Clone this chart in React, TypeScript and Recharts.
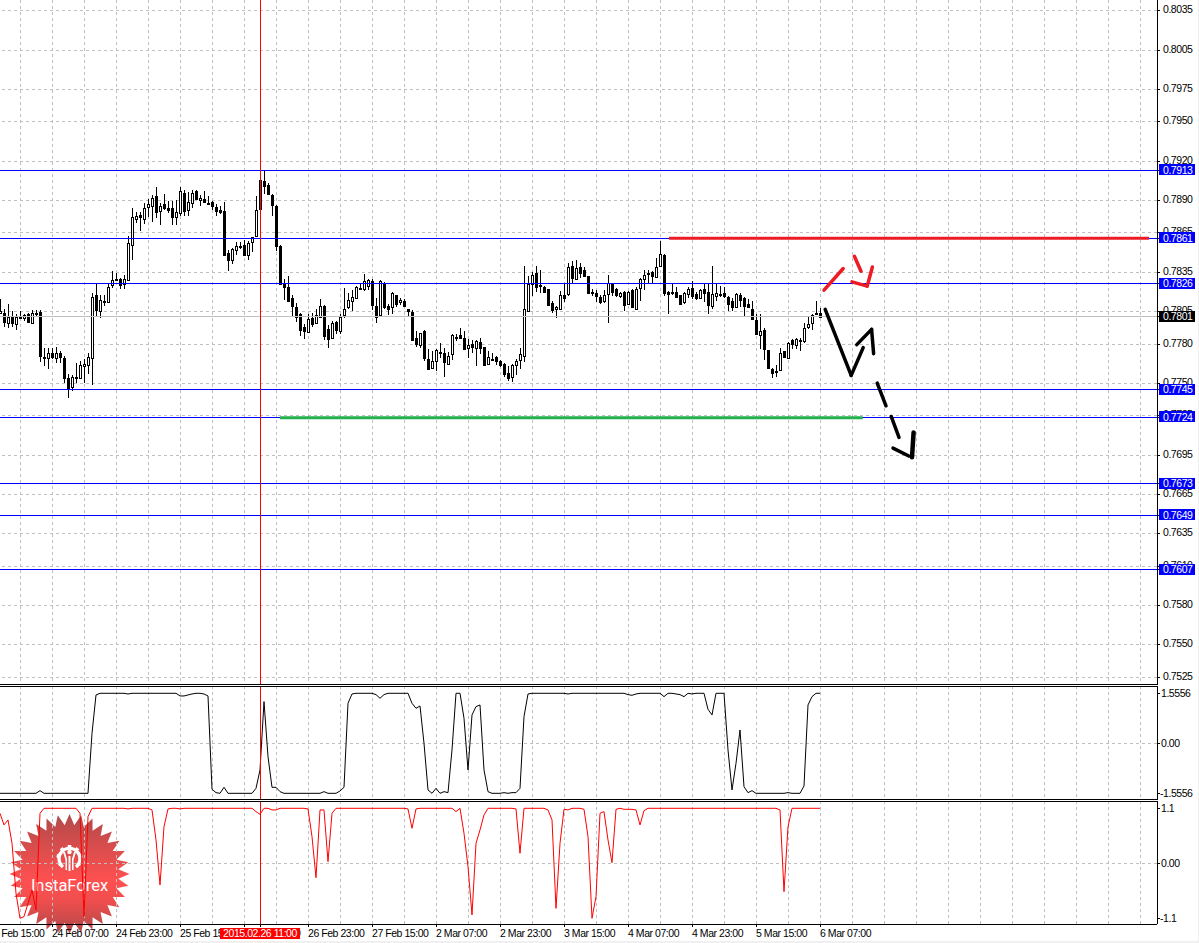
import React from "react";
import { ComposedChart, Bar, Line, XAxis, YAxis, CartesianGrid, ReferenceLine } from "recharts";

// Prices are in pips (0.7805 = 7805). Each bar: [open, high, low, close]
const barsFeb: number[][] = [
  [7803.4,7814.1,7802.7,7805.2],[7803.9,7806.5,7793,7796.8],[7796.3,7810.3,7792.5,7800.9],[7800.4,7805.2,7793,7795.8],[7795.3,7802.7,7790.7,7800.9],
  [7800.6,7805.2,7798.8,7799.9],[7799.9,7803.2,7797.6,7802.4],[7803.2,7803.4,7796.3,7796.8],[7796.3,7805.7,7795.8,7803.9],[7803.4,7806,7801.4,7802.9],
  [7804.7,7806,7766.3,7770.8],[7770.3,7777.2,7763.2,7770],[7769.3,7777.2,7760.7,7773.4],[7772.9,7777.2,7768.3,7769.8],[7769.3,7778,7765.2,7773.4],
  [7772.9,7774.7,7765.8,7769.8],[7769.6,7770.8,7750,7754],[7753.8,7756.8,7738.8,7746.2],[7747.4,7756.1,7744.1,7755.1],[7755.1,7765.8,7750,7754],
  [7754,7767,7753,7764.2],[7763.2,7768.3,7750.5,7764.7],[7763.7,7773.4,7756.8,7770.3],[7769.6,7819.2,7748.4,7816.1],[7817.2,7826.8,7801.4,7805.7],
  [7805.2,7817.9,7799.9,7813.9],[7812.6,7817.2,7809,7813.1],[7812.1,7826.8,7811.6,7823.8],[7825.3,7835.7,7823,7828.9],[7829.6,7834.5,7828.1,7829.9],
  [7829.4,7830.7,7822.3,7825.3],[7825.8,7833.2,7822.3,7829.9],[7828.9,7863,7828.1,7857.4],[7855.6,7884.1,7844.7,7877.2],[7875.7,7880.8,7872.6,7878.2],
  [7878.8,7880.8,7866.8,7877.2],[7875.7,7887.9,7872.1,7884.1],[7884.9,7891,7877.2,7887.2],[7885.4,7894.3,7873.4,7892],[7893.3,7900.1,7876.5,7881],
  [7881.6,7887.9,7870.9,7885.6],[7887.2,7895,7882.8,7884.4],[7884.1,7889.2,7880.3,7882.6],[7884.1,7889.2,7870.9,7877],[7877.5,7890,7870.9,7881],
  [7880.3,7899.9,7878.2,7896.8],[7895.8,7898.1,7877.7,7881.6],[7882.6,7896.3,7877.7,7888.7],[7887.9,7897.6,7884.1,7895.5],[7897.1,7897.6,7890,7891],
  [7890.2,7894.3,7885.4,7891.7],[7891,7896.8,7887.9,7888.4],[7888.1,7893,7886.6,7887.7],[7888.7,7889.2,7882.3,7885.6],[7885.1,7887.4,7877.7,7881.6],
  [7882.6,7885.4,7879.8,7880.8],[7881.8,7888.4,7848.5,7848.5],[7849.7,7851.8,7835.7,7844.7],[7844.1,7853.3,7841.6,7852.8],[7851.8,7857.9,7848.5,7855.1],
  [7855.3,7857.9,7852.8,7854.3],[7855.8,7859.9,7848,7848.2],[7848,7858.6,7844.7,7857.4],[7857.9,7862,7850.2,7861.7],[7862.5,7893.5,7862,7882.8],
  [7905.5,7906.2,7883.3,7883.6],[7904.7,7912.1,7895,7900.6],[7901.9,7903.2,7894.3,7894.5],[7894.3,7895,7877.7,7886.6],[7885.6,7886.6,7851,7855.3],
  [7855.3,7856.1,7825.6,7826.3],[7826.3,7829.4,7813.6,7823.3],[7823.3,7832.4,7812.8,7813.3],[7815.6,7817.2,7800.6,7809],[7808.5,7811.6,7796.8,7800.6],
];
const barsMid: number[][] = [
  [7802.9,7803.4,7786.1,7790.7],[7792.7,7795,7784.1,7789.7],[7789.4,7802.7,7788.7,7799.3],[7800.1,7803.9,7793.2,7795.3],[7796.3,7806.5,7795.8,7802.4],
  [7800.9,7814.1,7800.1,7809.3],[7808.8,7809.5,7783.1,7786.4],[7791.2,7794.3,7777.2,7783.8],[7784.3,7797.6,7783.6,7796.3],[7797.1,7797.6,7787.9,7790.5],
  [7790.2,7802.7,7787.4,7800.9],[7802.4,7823,7800.1,7807],[7808,7819.2,7806.5,7813.9],[7812.8,7821.2,7805.2,7816.2],[7815.1,7824.3,7814.6,7823.3],
  [7823,7825.6,7821.8,7822],[7822,7833.7,7820.5,7828.4],[7824.3,7829.4,7821,7828.9],[7828.4,7829.4,7805.7,7809.8],[7809.3,7815.4,7796,7800.6],
  [7802.2,7828.9,7800.9,7828.1],[7826.8,7827.3,7806.5,7808],[7809.3,7810.3,7801.9,7806.5],[7808.3,7819.7,7802.7,7818.7],[7817.2,7817.9,7808.5,7810.3],
  [7812.1,7815.4,7809.5,7813.9],[7813.3,7814.1,7808.5,7809.3],[7806.5,7807,7800.6,7805.5],[7804.4,7806,7782.3,7782.8],[7784.3,7789.9,7778,7779.8],
  [7779.3,7788.7,7777.2,7788.2],[7789.7,7790.4,7767,7769.1],[7768.3,7776.5,7760.7,7760.7],[7761.7,7774.7,7760.7,7766.8],[7767,7776.5,7759.4,7775.2],
  [7774.2,7780.5,7769.6,7772.9],[7772.9,7777.2,7754.8,7766],[7764.5,7773.9,7763.7,7771.1],[7772.4,7787.4,7767.8,7786.6],[7785.3,7787.4,7782.3,7785],
  [7786.6,7792.5,7783.6,7784.3],[7784.3,7789.9,7775.9,7776.2],[7777,7784.1,7769.1,7779.5],[7780.3,7783.1,7772.9,7777.5],[7777,7783.1,7763.2,7782.6],
  [7781.3,7784.8,7772.1,7777.2],[7777.5,7778,7763.7,7764],[7764.5,7774.7,7763.7,7769.8],[7768,7772.9,7767.5,7768.2],[7769.8,7770.8,7763.7,7767],
  [7766.8,7767.8,7762.7,7763.7],[7765,7765.8,7755.1,7756.9],[7758.1,7763.2,7752,7754.3],[7754.8,7764.5,7751,7763.7],[7764,7768.3,7756.1,7767.3],
  [7768,7777.2,7760.7,7772.6],[7770.8,7840.1,7766.5,7807],[7805.5,7831.9,7805,7826.3],[7826.3,7835.2,7816.7,7833.2],[7834,7840.1,7819.7,7823.5],
  [7825.4,7836.5,7819.2,7825.1],[7824,7824.3,7819.2,7819.7],[7821.8,7822.3,7809.5,7810.1],[7811.1,7813.3,7803.4,7805.7],[7806.7,7809,7799.9,7808.5],
];
const barsMar: number[][] = [
  [7806.5,7820.5,7805.7,7817.2],[7817.2,7825.6,7812.1,7815.6],[7818.2,7842.1,7816.7,7839.3],[7840.1,7843.4,7826.8,7830.7],[7829.4,7844.7,7828.9,7838.3],
  [7839.1,7842.1,7830.9,7834.7],[7836.3,7839.1,7831.9,7832.4],[7832.4,7832.4,7818.9,7818.9],[7820.2,7822.3,7816.7,7818.9],[7818.7,7821.2,7812.3,7816.4],
  [7816.2,7817.9,7810.6,7812.1],[7812.8,7821,7811.6,7817.2],[7818.2,7833.2,7795.8,7826.6],[7826.6,7826.8,7816.7,7819.7],[7821.8,7823,7815.9,7817.9],
  [7816.7,7820.2,7815.6,7819.2],[7820,7820.5,7804.9,7809.5],[7810.3,7820.5,7809.5,7820],[7821.5,7822.3,7807.8,7808.3],[7806.5,7823.8,7805.7,7822.3],
  [7822.8,7830.2,7813.3,7829.4],[7829.4,7837,7821.2,7833.2],[7833.8,7836.5,7826.8,7834.1],[7835.2,7835.7,7826.8,7831.7],[7831.2,7845.9,7830.7,7839.1],
  [7839.6,7859.2,7839.1,7849.2],[7848.5,7849.2,7816.7,7818.9],[7819.7,7820.5,7802.7,7818.4],[7820.2,7826.8,7817.7,7818.9],[7820.2,7823.8,7815.4,7815.9],
  [7817.2,7817.9,7809.5,7810.3],[7811.8,7819.7,7810.3,7819.2],[7818.2,7823.8,7815.4,7822.3],[7823,7828.6,7814.6,7816.4],[7818.4,7819.7,7813.6,7815.1],
  [7815.6,7822.3,7814.1,7821.5],[7822.3,7825.6,7812.1,7818.9],[7820,7825.6,7802.7,7809.8],[7809,7839.6,7806.5,7818.4],[7816.9,7826.1,7812.8,7819.2],
  [7818,7824.3,7816.2,7817.7],[7819.2,7823.5,7815.1,7816.4],[7816.2,7816.7,7805.2,7810.6],[7812.6,7815.4,7805.2,7808.3],[7808.5,7819.2,7808,7818.4],
  [7817.2,7819.2,7808.5,7813.6],[7815.4,7815.9,7800.6,7808.8],[7810.3,7814.1,7807.5,7808],[7807,7812.8,7798.9,7799.1],[7798.1,7802.7,7786.9,7787.4],
  [7787.1,7802.7,7775.9,7789.7],[7790.4,7792.5,7767.8,7775.9],[7775.2,7775.4,7760.7,7761.4],[7761.2,7761.7,7754.1,7757.9],[7759.4,7763.7,7755.1,7759.7],
  [7760.4,7777.2,7759.4,7773.4],[7774.4,7774.9,7769.6,7769.8],[7769.6,7781.5,7769.1,7781],[7782.8,7783.6,7775.9,7779.8],[7779.3,7784.3,7776.5,7783.6],
  [7783.1,7784.3,7774.7,7783.4],[7782.3,7796.3,7780.5,7792.5],[7793.2,7800.9,7791.2,7795.5],[7796,7802.9,7790.4,7802.4],[7803.4,7813.3,7802.4,7802.9],
  [7803.9,7807.7,7800.1,7800.6],
];
const oscBlack: number[] = [
  -1.556,-1.556,-1.556,-1.556,-1.556,-1.556,-1.556,-1.556,-1.556,-1.556,
  -1.473,-1.556,-1.556,-1.556,-1.556,-1.556,-1.556,-1.556,-1.556,-1.556,
  -1.556,-1.556,-1.556,0.311,1.504,1.556,1.556,1.556,1.556,1.556,
  1.556,1.556,1.535,1.556,1.556,1.556,1.556,1.556,1.556,1.556,
  1.556,1.556,1.556,1.556,1.556,1.473,1.473,1.504,1.535,1.556,
  1.556,1.535,1.473,-1.432,-1.535,-1.556,-1.369,-1.556,-1.556,-1.556,
  -1.556,-1.556,-1.556,-1.556,-1.4,-0.83,1.297,-0.415,-1.369,-1.369,
  -1.504,-1.556,-1.556,-1.556,-1.556,-1.556,-1.556,-1.556,-1.556,-1.556,
  -1.556,-1.504,-1.556,-1.556,-1.556,-1.483,-1.369,1.245,1.535,1.556,
  1.556,1.556,1.556,1.556,1.515,1.4,1.515,1.556,1.556,1.556,
  1.556,1.556,1.556,1.245,1.089,1.162,0,-1.452,-1.556,-1.4,
  -1.556,-1.504,-1.535,-0.207,1.556,1.556,0.778,-0.83,0.882,1.141,
  1.193,-0.83,-1.504,-1.556,-1.556,-1.556,-1.535,-1.556,-1.535,-1.535,
  -1.4,0.83,1.535,1.556,1.556,1.556,1.556,1.556,1.556,1.556,
  1.556,1.556,1.535,1.556,1.556,1.556,1.556,1.556,1.556,1.556,
  1.556,1.556,1.556,1.556,1.556,1.556,1.556,1.515,1.494,1.535,
  1.556,1.556,1.556,1.556,1.556,1.556,1.452,1.556,1.556,1.535,
  1.515,1.452,1.556,1.535,1.556,1.556,1.556,1.058,0.882,1.556,
  1.556,1.556,-0.207,-1.452,-0.622,0.415,-1.349,-1.535,-1.473,-1.556,
  -1.556,-1.556,-1.556,-1.556,-1.556,-1.556,-1.556,-1.535,-1.556,-1.556,
  -1.556,-1.328,1.193,1.452,1.556,1.556,
];
const oscRed: number[] = [
  1,0.767,0.867,0.4,-0.6,-1.1,-1.067,-0.8,-0.533,-0.933,
  1,1.1,1.1,1.1,1.1,1.1,1.1,1.1,1.1,1.1,
  1,-1.067,0.933,1.1,1.1,1.1,1.1,1.1,1.1,1.1,
  1.1,1.1,1.087,1.1,1.1,1.1,1.1,1.1,1.067,0.467,
  -0.433,0.733,1.087,1.1,1.1,1.087,1.1,1.1,1.1,1.1,
  1.1,1.1,1.1,1.1,1.1,1.1,1.1,1.1,1.1,1.1,
  1.1,1.1,1.1,1.1,1.033,0.98,1.1,1.1,1.067,1.067,
  1.1,1.1,1.1,1.1,1.1,1.1,1.1,1.087,0.533,-0.287,
  1.067,1.067,0.033,1,1.1,1.1,1.1,1.1,1.1,1.1,
  1.1,1.1,1.1,1.1,1.1,1.1,1.1,1.1,1.1,1.1,
  1.1,1.1,1.087,0.7,1.087,1.1,1.1,1.1,1.1,1.1,
  1.1,1.1,1.1,1.1,1.033,1.1,0.6,-0.067,-1.033,0.4,
  0.667,0.967,1.1,1.1,1.1,1.1,1.1,1.1,1.1,1.087,
  0.2,1.1,1.1,1.1,1.1,1.1,1.1,1.067,0.867,-0.9,
  0.4,1.08,1.067,1.1,1.1,1.1,1.08,0.533,-1.1,-0.667,
  1,1.033,0.467,0.013,1.08,1.1,1.08,1.08,1.08,1.067,
  0.767,1.053,1.1,1.1,1.1,1.1,1.1,1.1,1.1,1.1,
  1.1,1.1,1.1,1.1,1.1,1.1,1.1,1.1,1.1,1.1,
  1.1,1.1,1.1,1.1,1.1,1.1,1.1,1.1,1.1,1.1,
  1.1,1.1,1.1,1.1,1.1,1.067,-0.567,0.733,1.1,1.1,
  1.1,1.1,1.1,1.1,1.1,1.1,
];

const priceTicks = [8035,8005,7975,7950,7920,7890,7865,7835,7805,7780,7750,7725,7695,7665,7635,7610,7580,7550,7525];
const blueLevels = [7913,7861,7826,7745,7724,7673,7649,7607];
const lastPrice = 7801;
const gridBars = [5,13,21,29,37,45,53,61,69,77,85,93,101,109,117,125,133,141,149,157,165,173,181,189,197,205,213,221,229,237,245,253,261,269,277,285];
const timeBars = [-3,13,29,45,61,65,77,93,109,125,141,157,173,189,205];
const timeLabels = ["23 Feb 15:00","24 Feb 07:00","24 Feb 23:00","25 Feb 15:00","26 Feb 07:00","2015.02.26 11:00","26 Feb 23:00","27 Feb 15:00","2 Mar 07:00","2 Mar 23:00","3 Mar 15:00","4 Mar 07:00","4 Mar 23:00","5 Mar 15:00","6 Mar 07:00"];
const cursorBar = 65;
const redStrokes = [
  [[206,7821.2],[210.8,7837.8]],
  [[213.6,7847.2],[215.25,7835.7]],
  [[213,7827.6],[216.8,7824.3]],
  [[216.8,7824.3],[218.1,7839]],
];
const blackStrokes = [
  [[206.3,7806.5],[212.8,7756]],
  [[212.8,7756],[215.8,7777.2]],
  [[214.2,7779.5],[217.9,7791.2]],
  [[217.9,7791.2],[218.4,7772.6]],
  [[219.3,7750],[221.5,7732.7]],
  [[222.8,7724.5],[224.75,7708.5]],
  [[223.25,7700.3],[227.2,7694.2]],
  [[228,7693.2],[228.4,7712.3]],
];
const resistance = [[167.25,7861],[287.25,7861]];
const support = [[70,7723.6],[215.7,7723.6]];

const ohlc = [...barsFeb, ...barsMid, ...barsMar];
const mainData = ohlc.map((b, i) => ({ i, open: b[0], high: b[1], low: b[2], close: b[3], range: [b[2], b[1]] }));
const oscData = oscBlack.map((v, i) => ({ i, v, r: oscRed[i] }));

const FONT = "'Liberation Sans', Arial, sans-serif";
const FS = 10.5;
const LS = -0.45;
const CHART_W = 1215;
const margin = { top: 0, right: 0, bottom: 0, left: 0 };
const xDomain: [number, number] = [-4, 289.25];
const GRID = "#c0c0c0";

const Candle = (p: any) => {
  const { x, y, width, height, payload } = p;
  const cx = Math.round(x + width / 2);
  const unit = height / (payload.high - payload.low);
  const yOf = (v: number) => y + (payload.high - v) * unit;
  const up = payload.close >= payload.open;
  const top = Math.round(yOf(Math.max(payload.open, payload.close)));
  const bot = Math.round(yOf(Math.min(payload.open, payload.close)));
  return (
    <g shapeRendering="crispEdges">
      <line x1={cx + 0.5} x2={cx + 0.5} y1={Math.round(y)} y2={Math.round(y + height)} stroke="#000" />
      {up ? (
        <rect x={cx - 0.5} y={top + 0.5} width={2} height={Math.max(bot - top, 1)} fill="#fff" stroke="#000" />
      ) : (
        <rect x={cx - 1} y={top} width={3} height={Math.max(bot - top + 1, 2)} fill="#000" />
      )}
    </g>
  );
};

const PriceTick = (p: any) => {
  const { x, y, payload } = p;
  const v = payload.value;
  const blue = blueLevels.includes(v);
  const last = v === lastPrice;
  const label = (v / 10000).toFixed(4);
  if (blue || last) {
    return (
      <g>
        <rect x={x - 1} y={Math.round(y) - 6} width={36} height={11} fill={last ? "#000" : "#0000ff"} />
        <text x={x + 3} y={y + 3.5} fill="#fff" fontFamily={FONT} fontSize={FS} letterSpacing={LS}>{label}</text>
      </g>
    );
  }
  return <text x={x + 3} y={y + 2.5} fill="#000" fontFamily={FONT} fontSize={FS} letterSpacing={LS}>{label}</text>;
};

const labelsFor: Record<string, string> = { "1.5556": "1.5556", "-1.5556": "-1.5556", "1.1": "1.1", "-1.1": "-1.1", "0": "0.00" };
const OscTick = (p: any) => (
  <text x={p.x + (p.payload.value < 0 ? 0 : 1)} y={p.y + 3.5} fill="#000" fontFamily={FONT} fontSize={FS} letterSpacing={LS}>
    {labelsFor[String(p.payload.value)]}
  </text>
);

const TimeTick = (p: any) => {
  const { x, y, payload, index } = p;
  const text = timeLabels[index];
  if (payload.value === cursorBar) {
    return (
      <g>
        <rect x={x - 40} y={y + 1} width={80} height={11} fill="#ff0000" />
        <text x={x} y={y + 10} textAnchor="middle" fill="#fff" fontFamily={FONT} fontSize={FS} letterSpacing={LS}>{text}</text>
      </g>
    );
  }
  return <text x={x} y={y + 10} fill="#000" fontFamily={FONT} fontSize={FS} letterSpacing={LS}>{text}</text>;
};

const starPoints = (() => {
  const pts: string[] = [];
  const n = 32;
  for (let k = 0; k < n * 2; k++) {
    const r = k % 2 === 0 ? 60 : 49;
    const a = (Math.PI * k) / n - Math.PI / 2;
    pts.push(`${69.5 + r * Math.cos(a)},${874 + r * Math.sin(a)}`);
  }
  return pts.join(" ");
})();

const gearTeeth = [0, 40, 80, 120, 240, 280, 320];

const Badge = () => (
  <svg width={1199} height={943} style={{ position: "absolute", left: 0, top: 0 }}>
    <defs>
      <linearGradient id="star" x1="0" y1="0" x2="0" y2="1">
        <stop offset="0" stopColor="#b24a4a" />
        <stop offset="0.55" stopColor="#ff5050" />
        <stop offset="0.72" stopColor="#f04e4e" />
        <stop offset="1" stopColor="#b04848" />
      </linearGradient>
    </defs>
    <polygon points={starPoints} fill="url(#star)" />
    <g fill="#fff">
      <path d="M63 867 A10.5 10.5 0 1 1 76 867" fill="none" stroke="#fff" strokeWidth={3.2} />
      {gearTeeth.map((d) => (
        <rect key={d} x={67.7} y={845} width={3.6} height={3.6} transform={`rotate(${d} 69.5 858)`} />
      ))}
      <circle cx={69.5} cy={852} r={2.2} />
      <rect x={68.5} y={856} width={2} height={15} />
      <path d="M63 852 L65 852 L67 859 L67 870 L65.5 870 L65.5 860 Z" />
      <path d="M76 852 L74 852 L72 859 L72 870 L73.5 870 L73.5 860 Z" />
    </g>
    <text x={69.5} y={891} textAnchor="middle" fill="#fff" fontFamily="Roboto, sans-serif" fontSize={16.5}>InstaForex</text>
  </svg>
);

const Rule = ({ top }: { top: number }) => (
  <div style={{ position: "absolute", left: 0, top, width: 1158, height: 1, background: "#000" }} />
);

const seg = (s: number[][]) => s.map((q) => ({ x: q[0], y: q[1] }));

export default function App() {
  const mainTicks = [...priceTicks, ...blueLevels, lastPrice];
  return (
    <div style={{ position: "absolute", left: 0, top: 0, width: 1199, height: 943, overflow: "hidden", background: "#fff" }}>
      <style>{`.crisp line,.recharts-cartesian-grid line,.recharts-cartesian-axis-line,.recharts-cartesian-axis-tick-line{shape-rendering:crispEdges}`}</style>
      <Badge />

      <div style={{ position: "absolute", left: -16, top: 0 }}>
        <ComposedChart width={CHART_W} height={685} data={mainData} margin={margin}>
          <CartesianGrid stroke={GRID} strokeDasharray="3 3" horizontalValues={priceTicks} verticalValues={gridBars} />
          <XAxis dataKey="i" type="number" domain={xDomain} allowDataOverflow hide />
          <YAxis orientation="right" type="number" domain={[7518.9, 8043.4]} allowDataOverflow width={42} ticks={mainTicks} interval={0} tick={<PriceTick />} tickSize={3} tickMargin={0} stroke="#000" />
          <Bar dataKey="range" barSize={3} shape={<Candle />} isAnimationActive={false} />
          {blueLevels.map((v) => (
            <ReferenceLine key={v} className="crisp" y={v} stroke="#0000ff" strokeWidth={1} />
          ))}
          <ReferenceLine className="crisp" y={lastPrice} stroke="#c0c0c0" strokeWidth={1} />
          <ReferenceLine className="crisp" x={cursorBar} stroke="#ff0000" strokeWidth={1} />
          <ReferenceLine segment={seg(resistance)} stroke="#ed1c24" strokeWidth={3} />
          <ReferenceLine segment={seg(support)} stroke="#22b14c" strokeWidth={3} />
          {redStrokes.map((s, k) => (
            <ReferenceLine key={`r${k}`} segment={seg(s)} stroke="#ed1c24" strokeWidth={3.5} strokeLinecap="round" />
          ))}
          {blackStrokes.map((s, k) => (
            <ReferenceLine key={`b${k}`} segment={seg(s)} stroke="#000" strokeWidth={k === 7 ? 4.5 : 3.5} strokeLinecap="round" />
          ))}
        </ComposedChart>
      </div>

      <div style={{ position: "absolute", left: -16, top: 686 }}>
        <ComposedChart width={CHART_W} height={114} data={oscData} margin={margin}>
          <CartesianGrid stroke={GRID} strokeDasharray="3 3" horizontalValues={[0]} verticalValues={gridBars} />
          <XAxis dataKey="i" type="number" domain={xDomain} allowDataOverflow hide />
          <YAxis orientation="right" type="number" domain={[-1.764, 1.783]} allowDataOverflow width={42} ticks={[1.5556, 0, -1.5556]} interval={0} tick={<OscTick />} tickSize={3} tickMargin={0} stroke="#000" />
          <Line dataKey="v" stroke="#000" strokeWidth={1} dot={false} type="linear" isAnimationActive={false} />
          <ReferenceLine className="crisp" x={cursorBar} stroke="#ff0000" strokeWidth={1} />
        </ComposedChart>
      </div>

      <div style={{ position: "absolute", left: -16, top: 801 }}>
        <ComposedChart width={CHART_W} height={142} data={oscData} margin={margin}>
          <CartesianGrid stroke={GRID} strokeDasharray="3 3" horizontalValues={[0]} verticalValues={gridBars} />
          <XAxis dataKey="i" type="number" domain={xDomain} allowDataOverflow height={19} ticks={timeBars} interval={0} tick={<TimeTick />} tickSize={3} tickMargin={0} stroke="#000" />
          <YAxis orientation="right" type="number" domain={[-1.214, 1.246]} allowDataOverflow width={42} ticks={[1.1, 0, -1.1]} interval={0} tick={<OscTick />} tickSize={3} tickMargin={0} stroke="#000" />
          <Line dataKey="r" stroke="#ff0000" strokeWidth={1} dot={false} type="linear" isAnimationActive={false} />
          <ReferenceLine className="crisp" x={cursorBar} stroke="#ff0000" strokeWidth={1} />
        </ComposedChart>
      </div>

      <Rule top={684} />
      <Rule top={686} />
      <Rule top={799} />
      <Rule top={801} />
      <div style={{ position: "absolute", left: 0, top: 941, width: 1199, height: 2, background: "#f0f0f0" }} />
      <div style={{ position: "absolute", left: 1198, top: 0, width: 1, height: 943, background: "#f0f0f0" }} />
    </div>
  );
}
